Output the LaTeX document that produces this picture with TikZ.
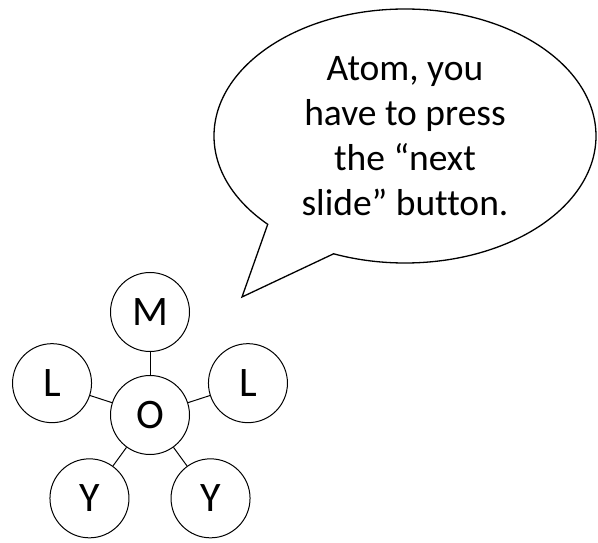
\documentclass[tikz,border=0pt]{standalone}
\usepackage{fontspec}
\setmainfont{Carlito}[Ligatures=NoCommon]
\usetikzlibrary{shapes,calc}
\tikzstyle{letter} = [draw, circle, minimum size=79pt, inner sep=0pt, line width=1pt, font=\fontsize{42}{44}\selectfont]
\tikzstyle{bond} = [draw, line width=1pt]
\tikzstyle{speech} = [draw, ellipse callout, minimum width=382pt, minimum height=254pt, callout pointer arc=24, line width=1.3pt, align=center, font=\fontsize{37.5}{45}\selectfont]
\begin{document}
\begin{tikzpicture}[x=1pt, y=1pt]
        \useasboundingbox (0,0) rectangle (598,542);
        \node[letter] at (150,127) (atom) {O};
        \node[letter] at ($(atom)+(90:103)$) (top) {M};
        \node[letter] at ($(atom)+(162:103)$) (left) {L};
        \node[letter] at ($(atom)+(18:103)$) (right) {L};
        \node[letter] at ($(atom)+(234:103)$) (lowleft) {Y};
        \node[letter] at ($(atom)+(306:103)$) (lowright) {Y};
        \node[speech, callout absolute pointer={(242,245)}] at (405,406) (says) {Atom, you\\have to press\\the “next\\slide” button.};
        \path[bond] (atom) -- (top);
        \path[bond] (atom) -- (left);
        \path[bond] (atom) -- (right);
        \path[bond] (atom) -- (lowleft);
        \path[bond] (atom) -- (lowright);
    \end{tikzpicture}
\end{document}
